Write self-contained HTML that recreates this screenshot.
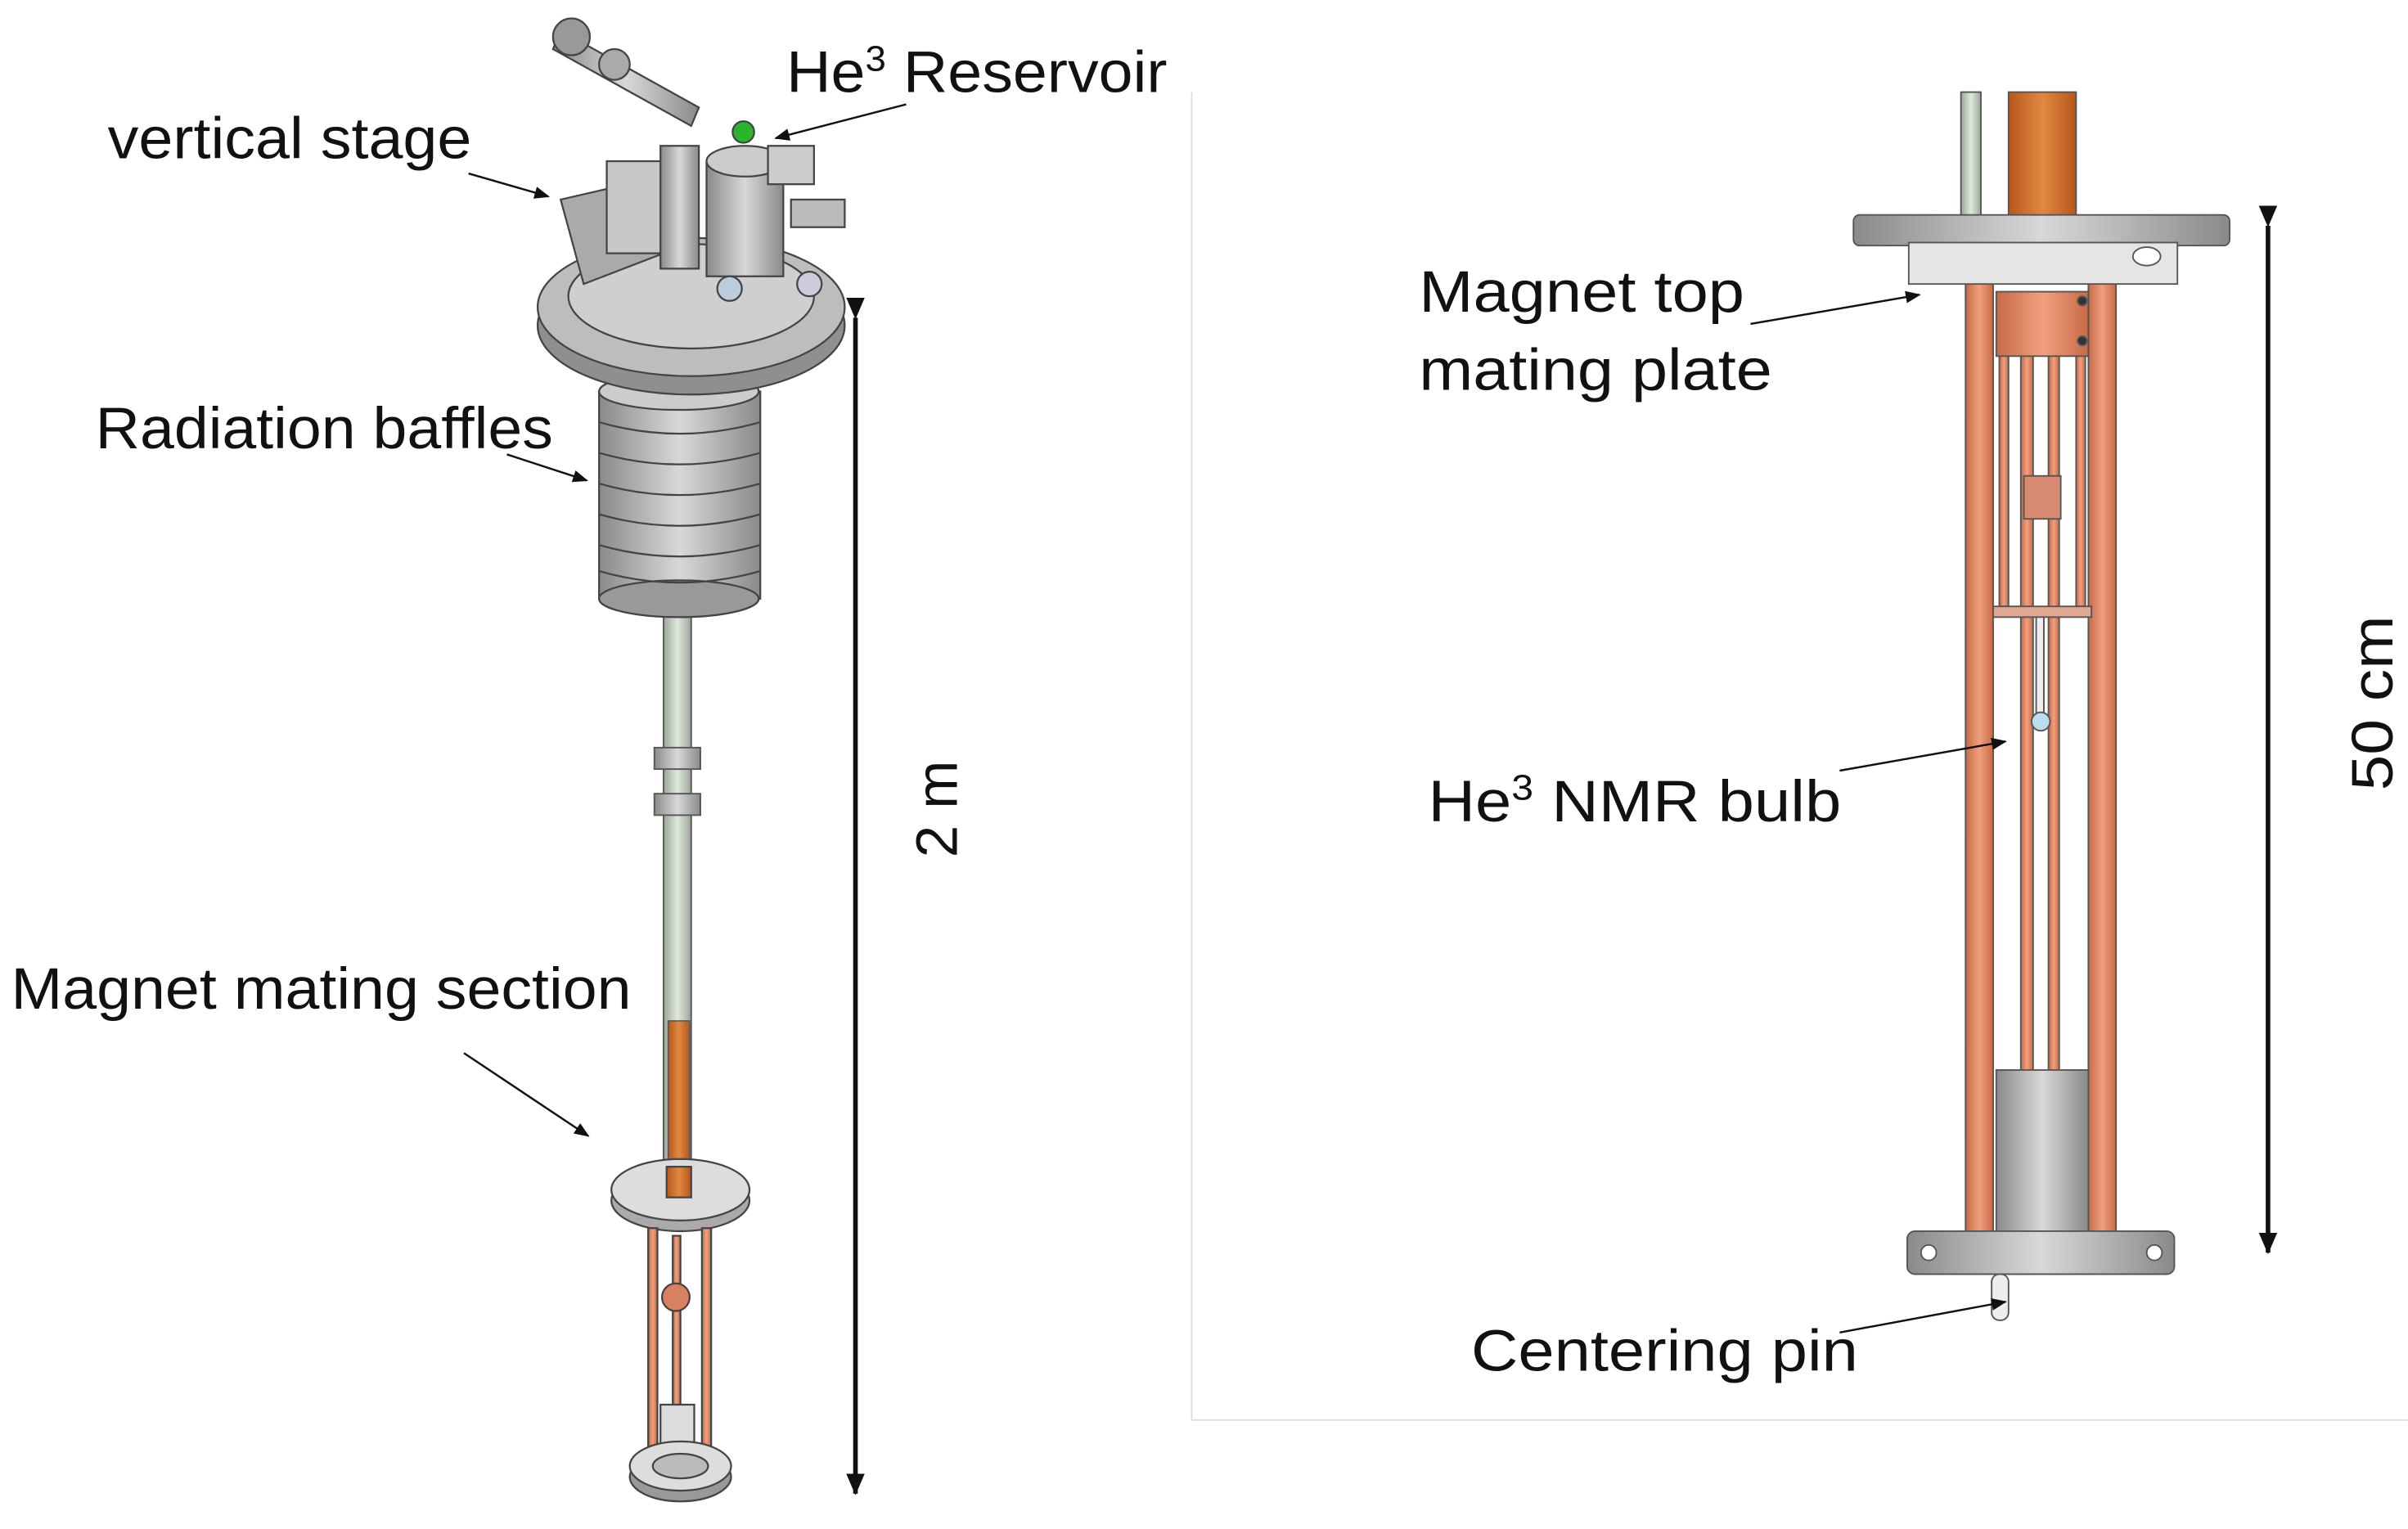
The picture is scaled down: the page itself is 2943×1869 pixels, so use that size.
<!DOCTYPE html>
<html><head><meta charset="utf-8"><style>
html,body{margin:0;padding:0;background:#fff;}
svg{display:block}
text{font-family:"Liberation Sans",sans-serif;fill:#111;}
</style></head><body>
<svg width="2943" height="1869" viewBox="0 0 1568 996" xmlns="http://www.w3.org/2000/svg">
<defs>
<marker id="ah" markerWidth="10" markerHeight="10" refX="9" refY="5" orient="auto" markerUnits="userSpaceOnUse">
<path d="M0,1 L10,5 L0,9 z" fill="#111"/></marker>
<marker id="ah2" markerWidth="14" markerHeight="14" refX="13" refY="7" orient="auto" markerUnits="userSpaceOnUse">
<path d="M0,1 L14,7 L0,13 z" fill="#111"/></marker>
<linearGradient id="cu" x1="0" x2="1"><stop offset="0" stop-color="#c86a45"/><stop offset=".5" stop-color="#f0a080"/><stop offset="1" stop-color="#c86a45"/></linearGradient>
<linearGradient id="cu2" x1="0" x2="1"><stop offset="0" stop-color="#b8561c"/><stop offset=".5" stop-color="#e08a40"/><stop offset="1" stop-color="#b8561c"/></linearGradient>
<linearGradient id="gr" x1="0" x2="1"><stop offset="0" stop-color="#8a8a8a"/><stop offset=".5" stop-color="#d8d8d8"/><stop offset="1" stop-color="#8a8a8a"/></linearGradient>
<linearGradient id="gn" x1="0" x2="1"><stop offset="0" stop-color="#9aa898"/><stop offset=".5" stop-color="#dfe8dc"/><stop offset="1" stop-color="#9aa898"/></linearGradient>
</defs>

<line x1="776" y1="60" x2="776" y2="925" stroke="#ddd" stroke-width="1"/>
<line x1="776" y1="925" x2="1568" y2="925" stroke="#ddd" stroke-width="1"/>

<rect x="432" y="395" width="18" height="390" fill="url(#gn)" stroke="#555" stroke-width="1"/>
<rect x="435" y="665" width="14" height="115" fill="url(#cu2)" stroke="#555" stroke-width=".8"/>
<rect x="426" y="487" width="30" height="14" fill="url(#gr)" stroke="#555"/>
<rect x="426" y="517" width="30" height="14" fill="url(#gr)" stroke="#555"/>
<g stroke="#444" stroke-width="1.2">
<rect x="390" y="255" width="105" height="135" fill="url(#gr)"/>
<ellipse cx="442" cy="390" rx="52" ry="12" fill="#999"/>
<ellipse cx="442" cy="255" rx="52" ry="12" fill="#ccc"/>
<path d="M390 275 Q442 290 495 275 M390 295 Q442 310 495 295 M390 315 Q442 330 495 315 M390 335 Q442 350 495 335 M390 355 Q442 370 495 355 M390 372 Q442 387 495 372" fill="none"/>
</g>
<g stroke="#444" stroke-width="1.2">
<ellipse cx="450" cy="212" rx="100" ry="45" fill="#8f8f8f"/>
<ellipse cx="450" cy="200" rx="100" ry="45" fill="#bdbdbd"/>
<ellipse cx="450" cy="193" rx="80" ry="34" fill="#cfcfcf"/>
<path d="M365 130 L430 115 L445 160 L380 185 z" fill="#aaa"/>
<rect x="395" y="105" width="40" height="60" fill="#c8c8c8"/>
<rect x="430" y="95" width="25" height="80" fill="url(#gr)"/>
<rect x="460" y="105" width="50" height="75" fill="url(#gr)"/>
<ellipse cx="485" cy="105" rx="25" ry="10" fill="#ccc"/>
<circle cx="484" cy="86" r="7" fill="#2bb52b"/>
<path d="M365 20 L455 70 L450 82 L360 32 z" fill="url(#gr)"/>
<circle cx="372" cy="24" r="12" fill="#999"/>
<circle cx="400" cy="42" r="10" fill="#aaa"/>
<rect x="500" y="95" width="30" height="25" fill="#ccc"/>
<rect x="515" y="130" width="35" height="18" fill="#bbb"/>
<circle cx="527" cy="185" r="8" fill="#ccd"/>
<circle cx="475" cy="188" r="8" fill="#bcd"/>
</g>
<g stroke="#444" stroke-width="1.2">
<ellipse cx="443" cy="782" rx="45" ry="20" fill="#aaa"/>
<ellipse cx="443" cy="775" rx="45" ry="20" fill="#ddd"/>
<rect x="434" y="760" width="16" height="20" fill="url(#cu2)"/>
<rect x="422" y="800" width="6" height="160" fill="url(#cu)"/>
<rect x="457" y="800" width="6" height="160" fill="url(#cu)"/>
<rect x="438" y="805" width="5" height="150" fill="url(#cu)"/>
<circle cx="440" cy="845" r="9" fill="#d88060"/>
<rect x="430" y="915" width="22" height="35" fill="#ddd"/>
<ellipse cx="443" cy="962" rx="33" ry="16" fill="#999"/>
<ellipse cx="443" cy="955" rx="33" ry="16" fill="#ddd"/>
<ellipse cx="443" cy="955" rx="18" ry="8" fill="#bbb"/>
</g>

<g stroke="#555" stroke-width="1">
<rect x="1277" y="60" width="13" height="85" fill="url(#gn)"/>
<rect x="1308" y="60" width="44" height="85" fill="url(#cu2)"/>
<rect x="1280" y="180" width="18" height="625" fill="url(#cu)"/>
<rect x="1360" y="180" width="18" height="625" fill="url(#cu)"/>
<rect x="1316" y="230" width="8" height="470" fill="url(#cu)"/>
<rect x="1334" y="230" width="7" height="470" fill="url(#cu)"/>
<rect x="1302" y="230" width="6" height="165" fill="url(#cu)"/>
<rect x="1352" y="230" width="6" height="165" fill="url(#cu)"/>
<rect x="1318" y="310" width="24" height="28" fill="#d88a70"/>
<rect x="1300" y="190" width="60" height="42" fill="url(#cu)"/>
<circle cx="1356" cy="196" r="3" fill="#333"/><circle cx="1356" cy="222" r="3" fill="#333"/>
<rect x="1298" y="395" width="64" height="7" fill="#e0a890"/>
<rect x="1326" y="402" width="5" height="70" fill="#eee"/>
<circle cx="1329" cy="470" r="6" fill="#bde"/>
<rect x="1300" y="697" width="60" height="105" fill="url(#gr)"/>
<rect x="1207" y="140" width="245" height="20" rx="4" fill="url(#gr)"/>
<rect x="1243" y="158" width="175" height="27" fill="#e5e5e5"/>
<ellipse cx="1398" cy="167" rx="9" ry="6" fill="#fff"/>
<rect x="1242" y="802" width="174" height="28" rx="5" fill="url(#gr)"/>
<circle cx="1256" cy="816" r="5" fill="#fff"/><circle cx="1403" cy="816" r="5" fill="#fff"/>
<rect x="1297" y="830" width="11" height="30" rx="5" fill="#eee"/>
</g>

<line x1="557" y1="207" x2="557" y2="973" stroke="#111" stroke-width="3" marker-end="url(#ah2)" marker-start="url(#ah2)"/>
<line x1="1477" y1="147" x2="1477" y2="816" stroke="#111" stroke-width="3" marker-end="url(#ah2)" marker-start="url(#ah2)"/>

<g stroke="#111" stroke-width="1.3">
<line x1="590" y1="68" x2="505" y2="90" marker-end="url(#ah)"/>
<line x1="305" y1="113" x2="357" y2="128" marker-end="url(#ah)"/>
<line x1="330" y1="296" x2="382" y2="313" marker-end="url(#ah)"/>
<line x1="302" y1="686" x2="383" y2="740" marker-end="url(#ah)"/>
<line x1="1140" y1="211" x2="1250" y2="192" marker-end="url(#ah)"/>
<line x1="1198" y1="502" x2="1306" y2="483" marker-end="url(#ah)"/>
<line x1="1198" y1="868" x2="1306" y2="848" marker-end="url(#ah)"/>
</g>

<g font-size="38">
<text x="512" y="60" textLength="248" lengthAdjust="spacingAndGlyphs">He<tspan font-size="23" dy="-14">3</tspan><tspan dy="14"> Reservoir</tspan></text>
<text x="70" y="103" textLength="237" lengthAdjust="spacingAndGlyphs">vertical stage</text>
<text x="62" y="292" textLength="298" lengthAdjust="spacingAndGlyphs">Radiation baffles</text>
<text x="7" y="657" textLength="404" lengthAdjust="spacingAndGlyphs">Magnet mating section</text>
<text x="924" y="203" textLength="212" lengthAdjust="spacingAndGlyphs">Magnet top</text>
<text x="924" y="254" textLength="230" lengthAdjust="spacingAndGlyphs">mating plate</text>
<text x="930" y="535" textLength="269" lengthAdjust="spacingAndGlyphs">He<tspan font-size="23" dy="-14">3</tspan><tspan dy="14"> NMR bulb</tspan></text>
<text x="958" y="893" textLength="252" lengthAdjust="spacingAndGlyphs">Centering pin</text>
<text transform="translate(623,527) rotate(-90)" text-anchor="middle">2 m</text>
<text transform="translate(1558,458) rotate(-90)" text-anchor="middle" textLength="114" lengthAdjust="spacingAndGlyphs">50 cm</text>
</g>
</svg>
</body></html>
